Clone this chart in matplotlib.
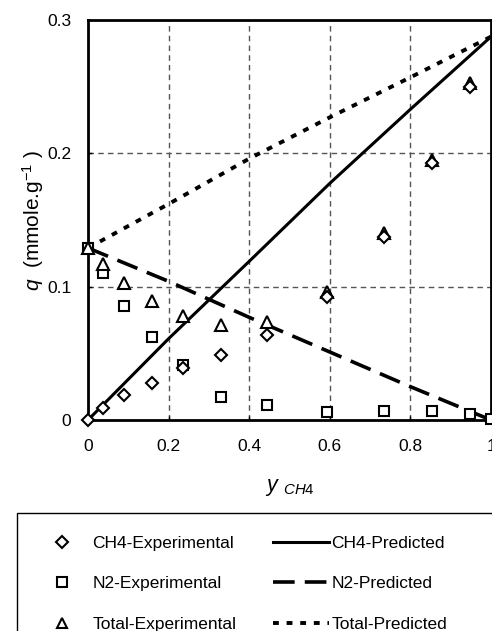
import matplotlib
matplotlib.use("Agg")
import matplotlib.pyplot as plt
from matplotlib.lines import Line2D
from matplotlib.patches import Rectangle
from matplotlib.ticker import FuncFormatter

plt.rcParams['font.family'] = ['Liberation Sans', 'DejaVu Sans']
plt.rcParams['mathtext.fontset'] = 'custom'
plt.rcParams['mathtext.rm'] = 'Liberation Sans'
plt.rcParams['mathtext.it'] = 'Liberation Sans:italic'

# Experimental data
y_exp = [0.0, 0.038, 0.089, 0.159, 0.235, 0.329, 0.443, 0.594, 0.735, 0.854, 0.948]
ch4_exp = [0.0, 0.009, 0.019, 0.0275, 0.039, 0.049, 0.064, 0.0925, 0.1375, 0.1925, 0.250]
total_exp = [0.129, 0.117, 0.103, 0.0895, 0.078, 0.071, 0.0737, 0.096, 0.140, 0.195, 0.2525]
y_n2 = [0.0, 0.038, 0.089, 0.159, 0.235, 0.329, 0.443, 0.594, 0.735, 0.853, 0.948, 1.0]
n2_exp = [0.129, 0.110, 0.0857, 0.0625, 0.041, 0.0175, 0.0113, 0.0062, 0.007, 0.007, 0.0045, 0.0008]

# Predicted curves
y_pred = [0.0, 0.2, 0.4, 0.6, 0.8, 1.0]
ch4_pred = [0.0, 0.061, 0.119, 0.1775, 0.233, 0.2875]
n2_pred = [0.129, 0.104, 0.077, 0.051, 0.025, 0.0]
total_pred = [0.129, 0.162, 0.196, 0.227, 0.257, 0.2875]

xticks = [0, 0.2, 0.4, 0.6, 0.8, 1.0]
yticks = [0, 0.1, 0.2, 0.3]

W, H = 492, 631
fig = plt.figure(figsize=(W / 100, H / 100), dpi=100)
ax = fig.add_axes([88 / W, 1 - 420 / H, (491 - 88) / W, (420 - 20) / H])

fs = 12.5
mk = dict(linestyle='none', markerfacecolor='white', markeredgecolor='black',
          markeredgewidth=1.5)
dash_n2 = (0, (6, 2.8))
dash_tot = (0, (1.5, 2.0))
l_ch4p, = ax.plot(y_pred, ch4_pred, color='black', lw=2.2, solid_capstyle='butt')
l_n2p, = ax.plot(y_pred, n2_pred, color='black', lw=2.6, linestyle=dash_n2)
l_totp, = ax.plot(y_pred, total_pred, color='black', lw=2.8, linestyle=dash_tot)
m_n2, = ax.plot(y_n2, n2_exp, marker='s', markersize=7.5, zorder=3, clip_on=False, **mk)
m_tot, = ax.plot(y_exp, total_exp, marker='^', markersize=8.5, zorder=3, clip_on=False, **mk)
m_ch4, = ax.plot(y_exp, ch4_exp, marker='D', markersize=6.5, zorder=3, clip_on=False, **mk)

ax.set_xlim(0, 1)
ax.set_ylim(0, 0.3)
ax.set_xticks(xticks)
ax.set_yticks(yticks)
fmt = FuncFormatter(lambda v, p: '%g' % v)
ax.xaxis.set_major_formatter(fmt)
ax.yaxis.set_major_formatter(fmt)
ax.tick_params(direction='in', length=3, width=1, labelsize=fs, pad=10)
ax.tick_params(axis='x', pad=14)
ax.tick_params(axis='y', pad=12)
ax.grid(True, color='#555555', lw=1.0, linestyle=(0, (4, 3)))
ax.set_axisbelow(True)
for s in ax.spines.values():
    s.set_linewidth(2.0)
    s.set_color('black')

ax.set_xlabel(r'$y$ $_{CH4}$', fontsize=fs + 3, labelpad=16)
ax.set_ylabel(r'$q$  (mmole.g$^{\mathrm{-1}}$ )', fontsize=fs + 2.5, labelpad=1)

# Legend frame
fig.add_artist(Rectangle((17 / W, -0.1), 1.0, 1 - 513 / H + 0.1, transform=fig.transFigure,
                         facecolor='white', edgecolor='black', lw=1.0))

h1 = [Line2D([], [], marker='D', markersize=6, **mk),
      Line2D([], [], marker='s', markersize=7, **mk),
      Line2D([], [], marker='^', markersize=7.5, **mk)]
leg1 = fig.legend(h1, ['CH4-Experimental', 'N2-Experimental', 'Total-Experimental'],
                  loc='upper left', bbox_to_anchor=(34 / W, 1 - 536 / H), frameon=False,
                  fontsize=fs, handlelength=3.2, handletextpad=0.15, borderpad=0,
                  borderaxespad=0, labelspacing=1.45, numpoints=1)
h2 = [Line2D([], [], color='black', lw=2.2),
      Line2D([], [], color='black', lw=2.6, linestyle=dash_n2),
      Line2D([], [], color='black', lw=2.8, linestyle=dash_tot)]
leg2 = fig.legend(h2, ['CH4-Predicted', 'N2-Predicted', 'Total-Predicted'],
                  loc='upper left', bbox_to_anchor=(273 / W, 1 - 536 / H), frameon=False,
                  fontsize=fs, handlelength=3.2, handletextpad=0.15, borderpad=0,
                  borderaxespad=0, labelspacing=1.45)

fig.savefig('out.png', dpi=100)
